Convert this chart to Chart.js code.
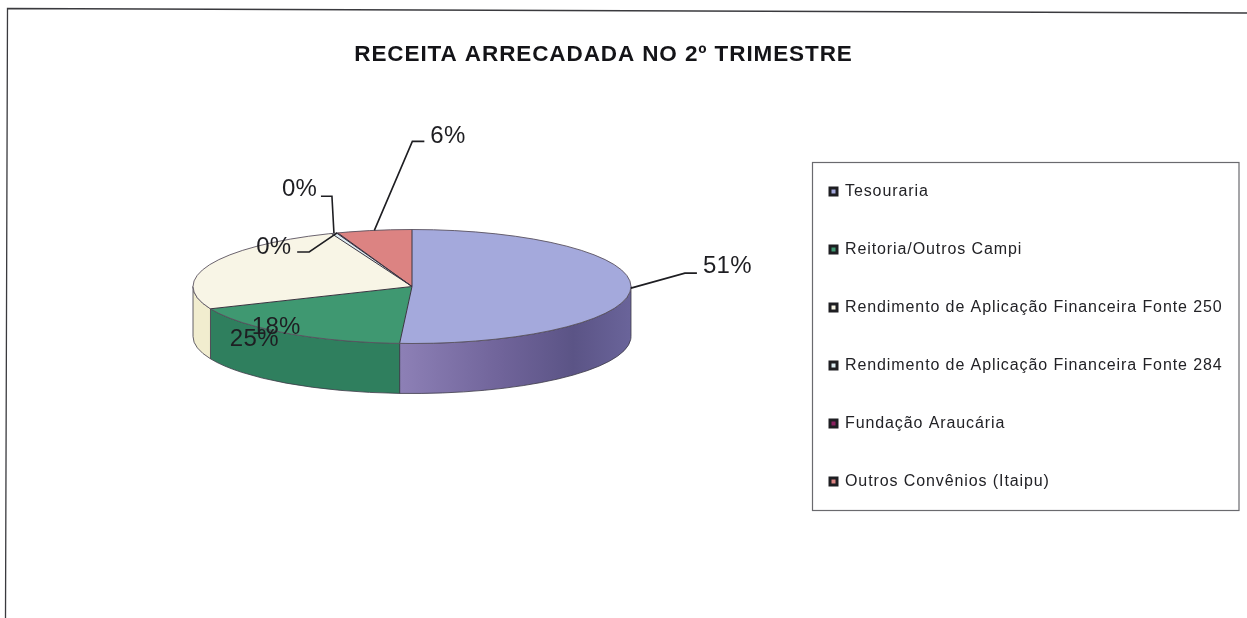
<!DOCTYPE html>
<html><head><meta charset="utf-8">
<style>html,body{margin:0;padding:0;background:#fff}canvas{display:block;filter:blur(0.4px)}</style>
<script src="https://cdn.jsdelivr.net/npm/chart.js@4"></script>
</head><body>
<div style="position:relative;width:1247px;height:618px"><canvas id="c"></canvas></div>
<script>
const titleText = 'RECEITA ARRECADADA NO 2º TRIMESTRE';
const categories = ['Tesouraria','Reitoria/Outros Campi','Rendimento de Aplicação Financeira Fonte 250','Rendimento de Aplicação Financeira Fonte 284','Fundação Araucária','Outros Convênios (Itaipu)'];
const values = [50.9, 17.7, 25.4, 0.4, 0.1, 5.5];
const topColors = ['#a4a9dc','#3f9871','#f8f5e6','#dcecf2','#8a2060','#dc8382'];
const sideColors = ['#7d70a6','#2f7f5e','#f1edcf','#c0ccd2','#6a1848','#b06060'];
const INK = '#1e1e22';

// projection of the flat pie to the tilted disc
const disc = {cx: 412, cy: 286.5, rx: 219, ry: 57, depth: 50};

// label placement relative to the slice's rim anchor: [elbow dx,dy, end dx,dy, text dx,dy]
const leaders = [
  [54,-15, 66,-15, 6,-7],
  null,
  null,
  [-2,-37, -13,-37, -39,-7],
  [-28,19, -40,19, -41,-5],
  [38,-89, 50,-89, 6,-5]
];

function rim(a){ return [disc.cx + disc.rx*Math.cos(a), disc.cy + disc.ry*Math.sin(a)]; }

const tilted = {
  id:'tilted',
  afterLayout(chart){
    const l = chart.legend, t = chart.titleBlock;
    l.left = 788; l.right = 1239; l.top = 141.5; l.bottom = 610;
    t.left = 0; t.right = 1207; t.top = 41; t.bottom = 63;
  },
  beforeDraw(chart){
    const c = chart.ctx;
    c.save();
    c.strokeStyle = '#3a3a3e'; c.lineWidth = 1.3;
    c.beginPath(); c.moveTo(5.5,618); c.lineTo(7.5,8.5); c.lineTo(1247,13); c.stroke();
    c.strokeStyle = '#6a6a6e'; c.lineWidth = 1.2;
    c.strokeRect(812.5,162.5,426.5,348);
    c.restore();
    c.letterSpacing = '0.9px';
  },
  beforeDatasetsDraw(chart){
    const c = chart.ctx, els = chart.getDatasetMeta(0).data;
    const {cx,cy,rx,ry,depth} = disc;
    c.save();
    c.letterSpacing = '0px';
    // visible wall: the lower half of the rim
    els.forEach((e,i)=>{
      const a0 = Math.max(e.startAngle, 0), a1 = Math.min(e.endAngle, Math.PI);
      if (a1 <= a0) return;
      c.beginPath();
      c.ellipse(cx,cy,rx,ry,0,a0,a1);
      c.ellipse(cx,cy+depth,rx,ry,0,a1,a0,true);
      c.closePath();
      let fill = sideColors[i];
      if (i === 0) {
        const g = c.createLinearGradient(cx-12,0,cx+rx,0);
        g.addColorStop(0,'#8d80b6'); g.addColorStop(0.45,'#6f6399');
        g.addColorStop(0.75,'#5b5486'); g.addColorStop(1,'#6a649a');
        fill = g;
      }
      c.fillStyle = fill; c.fill();
      c.strokeStyle = '#3c3a48'; c.lineWidth = 0.8; c.stroke();
    });
    c.restore();
    // tilt the library's arcs
    c.save();
    const area = chart.chartArea;
    const px = (area.left+area.right)/2, py = (area.top+area.bottom)/2;
    const r = els[0].outerRadius;
    c.translate(cx,cy); c.scale(rx/r, ry/r); c.translate(-px,-py);
  },
  afterDatasetsDraw(chart){
    const c = chart.ctx, els = chart.getDatasetMeta(0).data;
    c.restore();
    const {cx,cy,rx,ry} = disc;
    c.save();
    c.letterSpacing = '0px';
    // slice edges
    c.strokeStyle = '#3a3440'; c.lineWidth = 1;
    els.forEach(e=>{
      const [x,y] = rim(e.startAngle);
      c.beginPath(); c.moveTo(cx,cy); c.lineTo(x,y); c.stroke();
    });
    c.strokeStyle = '#5a5260'; c.lineWidth = 0.9;
    c.beginPath(); c.ellipse(cx,cy,rx,ry,0,0,Math.PI*2); c.stroke();
    // percent labels and leaders
    const total = values.reduce((a,b)=>a+b,0);
    c.font = '24px "Liberation Sans", Arial, sans-serif';
    c.fillStyle = INK; c.textBaseline = 'middle'; c.textAlign = 'left';
    c.letterSpacing = '0.3px';
    values.forEach((v,i)=>{
      const mid = (els[i].startAngle+els[i].endAngle)/2;
      const [ax,ay] = rim(mid);
      const txt = Math.round(v/total*100)+'%';
      const L = leaders[i];
      if (L) {
        c.strokeStyle = INK; c.lineWidth = 1.6;
        c.beginPath(); c.moveTo(ax,ay); c.lineTo(ax+L[0],ay+L[1]); c.lineTo(ax+L[2],ay+L[3]); c.stroke();
        c.fillText(txt, ax+L[2]+L[4], ay+L[3]+L[5]);
      } else {
        // labels without leaders sit on the wall/top of their slice, overlapping as in the source
        c.textAlign = 'center';
        const off = i===1 ? [ -0.62*rx, 0.72*ry ] : [ -0.72*rx, 0.93*ry ];
        c.fillText(txt, cx+off[0], cy+off[1]);
        c.textAlign = 'left';
      }
    });
    c.restore();
  }
};

new Chart(document.getElementById('c'), {
  type:'pie',
  data:{labels:categories, datasets:[{data:values, backgroundColor:topColors, borderWidth:0}]},
  plugins:[tilted],
  options:{
    responsive:true, maintainAspectRatio:false, animation:false,
    layout:{padding:{left:193,right:616,top:30,bottom:30}},
    plugins:{
      tooltip:{enabled:false},
      title:{display:true,text:titleText,color:'#141418',padding:0,
        font:{family:'"Liberation Sans", Arial, sans-serif',size:22.5,weight:'bold'}},
      legend:{position:'chartArea',align:'start',
        labels:{boxWidth:7,boxHeight:7,padding:42,color:'#222226',
          font:{family:'"Liberation Sans", Arial, sans-serif',size:16},
          generateLabels(chart){
            return Chart.overrides.pie.plugins.legend.labels.generateLabels(chart).map(x=>({...x,strokeStyle:'#1e1e22',lineWidth:3}));
          }}}
    }
  }
});
</script>
</body></html>
